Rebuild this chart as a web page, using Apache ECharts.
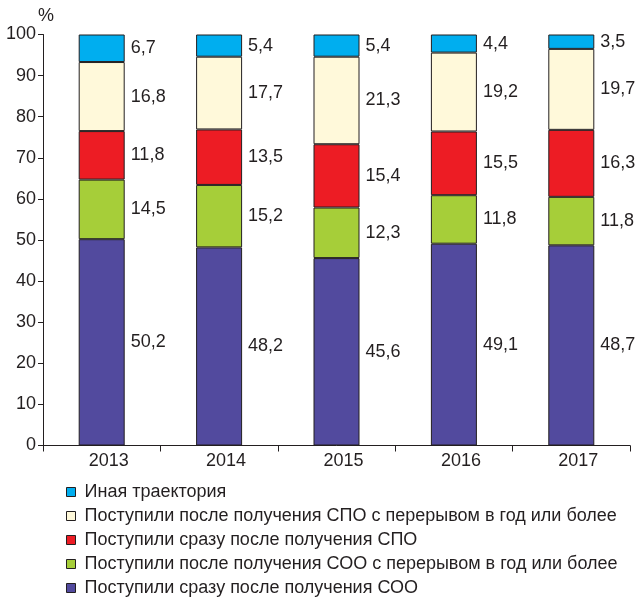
<!DOCTYPE html>
<html><head><meta charset="utf-8">
<script src="https://cdn.jsdelivr.net/npm/echarts@6/dist/echarts.min.js"></script>
<style>html,body{margin:0;padding:0;background:#fff}#c{width:636px;height:600px}</style>
</head><body><div id="c"></div>
<script>
const categories = ['2013','2014','2015','2016','2017'];
const sooDirect = [50.2, 48.2, 45.6, 49.1, 48.7];
const sooBreak = [14.5, 15.2, 12.3, 11.8, 11.8];
const spoDirect = [11.8, 13.5, 15.4, 15.5, 16.3];
const spoBreak = [16.8, 17.7, 21.3, 19.2, 19.7];
const other = [6.7, 5.4, 5.4, 4.4, 3.5];
const yTicks = [0,10,20,30,40,50,60,70,80,90,100];

const names = [
  'Поступили сразу после получения СОО',
  'Поступили после получения СОО с перерывом в год или более',
  'Поступили сразу после получения СПО',
  'Поступили после получения СПО с перерывом в год или более',
  'Иная траектория'
];
const values = [sooDirect, sooBreak, spoDirect, spoBreak, other];
const colors = ['#524a9e', '#a6ce39', '#ed1c24', '#fff9da', '#00aeef'];
const FONT = '"Liberation Sans", Arial, sans-serif';
const TXT = '#231f20';

const chart = echarts.init(document.getElementById('c'));
chart.setOption({
  animation: false,
  textStyle: { fontFamily: FONT },
  grid: { left: 43, right: 6, top: 34.5, bottom: 154.5, containLabel: false },
  legend: {
    orient: 'vertical', left: 66, top: 483, padding: 0,
    data: names.slice().reverse(),
    itemWidth: 9, itemHeight: 9, itemGap: 6,
    icon: 'rect',
    itemStyle: { borderColor: '#231f20', borderWidth: 1 },
    textStyle: { fontFamily: FONT, fontSize: 18, color: TXT, padding: [0,0,0,4] },
    selectedMode: false
  },
  xAxis: {
    type: 'category', data: categories,
    axisLine: { lineStyle: { color: TXT, width: 1 } },
    axisTick: { show: true, length: 6, lineStyle: { color: TXT } },
    axisLabel: { fontFamily: FONT, fontSize: 18, color: TXT, margin: 7, padding: [0,0,0,14] }
  },
  yAxis: {
    type: 'value', min: 0, max: 100, interval: 10,
    name: '%', nameGap: 9,
    nameTextStyle: { fontFamily: FONT, fontSize: 18, color: TXT, align: 'left', padding: [0,0,0,-5] },
    axisLine: { show: true, lineStyle: { color: TXT, width: 1 } },
    axisTick: { show: true, length: 5, lineStyle: { color: TXT } },
    splitLine: { show: false },
    axisLabel: { fontFamily: FONT, fontSize: 18, color: TXT, margin: 7,
      formatter: v => yTicks.includes(v) ? String(v) : '' }
  },
  series: names.map((n, i) => ({
    name: n, type: 'bar', stack: 'total', barWidth: 46,
    data: values[i],
    itemStyle: { color: colors[i], borderColor: '#231f20', borderWidth: 1 },
    label: {
      show: true, position: 'right', distance: 6,
      fontFamily: FONT, fontSize: 18, color: TXT,
      formatter: p => String(p.value).replace('.', ',')
    }
  }))
});
</script>
</body></html>
